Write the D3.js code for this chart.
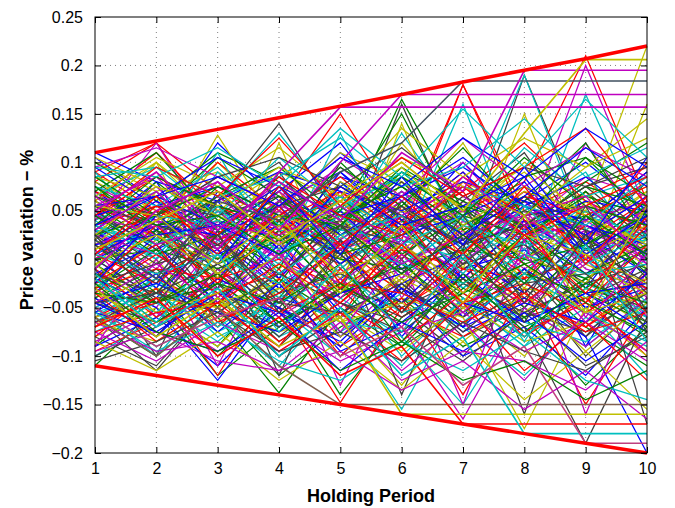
<!DOCTYPE html>
<html>
<head>
<meta charset="utf-8">
<script src="https://cdn.jsdelivr.net/npm/d3@7/dist/d3.min.js"></script>
<style>
  body { margin: 0; background: #fff; }
  svg text { font-family: "Liberation Sans", Arial, Helvetica, sans-serif; }
</style>
</head>
<body>
<svg id="chart" width="675" height="508"></svg>
<script>
// holding periods (x axis)
var periods = [1, 2, 3, 4, 5, 6, 7, 8, 9, 10];
var yTicks = [-0.2, -0.15, -0.1, -0.05, 0, 0.05, 0.1, 0.15, 0.2, 0.25];

// price variation paths, one per line, coloured through the MATLAB colour order
var paths = [
  [.105,.06,.02,-.03,.01,.05,-.02,.04,.00,.03],
  [-.11,-.05,-.09,-.02,-.06,.01,-.04,-.08,-.03,-.05],
  [.08,.12,.03,.07,-.01,.04,.09,.02,.06,.01],
  [.02,-.03,.05,-.01,.08,.02,-.05,.01,-.02,.06],
  [-.04,.01,-.06,.03,-.02,-.07,.00,.05,-.01,-.03],
  [.06,.02,.10,.04,.00,-.03,.03,-.02,.07,.02],
  [-.08,-.11,-.04,-.09,-.03,-.01,-.06,-.02,-.10,-.04],
  [.03,.08,-.02,.05,.11,.06,.01,.04,-.03,.05],
  [-.01,.04,.01,-.04,.03,.09,.04,.00,.05,-.02],
  [.09,.05,.07,.02,.06,.00,.08,.03,.01,.04],
  [-.06,-.02,-.08,-.05,-.10,-.04,-.07,-.12,-.06,-.09],
  [.01,-.06,.02,-.02,.04,-.01,.02,.07,.03,.00],
  [.05,.10,.04,.08,.02,.12,.05,.09,.03,.07],
  [-.03,-.08,-.01,-.06,.01,-.05,-.10,-.03,-.08,-.01],
  [.07,.03,.12,.06,.09,.04,.02,.06,.10,.05],
  [-.09,-.04,-.12,-.07,-.03,-.09,-.05,-.01,-.07,-.11],
  [.00,.05,-.04,.02,-.06,.03,.07,-.02,.04,.08],
  [.04,.00,.06,.13,.05,.01,-.03,.02,-.04,.00],
  [-.05,-.01,-.03,.01,-.08,-.02,.03,-.05,.00,-.06],
  [.10,.07,.09,.05,.11,.08,.04,.10,.06,.03],
  [-.02,.03,-.05,.06,.00,.16,.02,-.04,.01,-.03],
  [.03,-.02,.01,-.07,-.02,.02,-.06,.03,-.09,.01],
  [-.07,-.03,-.10,-.04,-.14,-.06,-.02,-.07,-.04,-.08],
  [.06,.11,.05,.03,.07,.02,.18,.05,.08,.04],
  [-.10,-.06,-.02,-.08,-.05,-.11,-.04,-.09,-.02,-.06],
  [.02,.06,.00,.04,-.03,.01,.05,.00,.12,.03],
  [-.04,.00,-.07,-.01,.04,-.03,.01,-.06,-.02,.02],
  [.08,.04,.06,.10,.03,.07,.01,.19,.04,.09],
  [.00,-.04,.03,-.03,.02,-.08,-.01,.01,-.05,-.02],
  [-.06,-.10,-.05,-.12,-.07,-.04,-.09,-.06,-.13,-.07],
  [.04,.09,.02,.06,.15,.05,.03,.07,.02,.10],
  [-.02,-.07,.02,-.04,-.01,.04,-.03,.02,.00,-.05],
  [.07,.02,.08,.01,.05,-.02,.06,.01,.04,.00],
  [-.08,-.05,-.09,-.03,-.06,-.13,-.05,-.10,-.03,-.07],
  [.01,.05,-.03,.09,.01,.06,-.01,.03,.07,.02],
  [.05,.01,.04,-.02,.08,.03,.10,.04,.01,.06],
  [-.03,.02,-.02,.03,-.04,.00,-.07,.02,-.03,.01],
  [.09,.12,.07,.04,.06,.10,.05,.08,.21,.06],
  [-.05,-.09,-.06,-.11,-.04,-.08,-.15,-.05,-.09,-.04],
  [.03,-.01,.05,.00,.07,-.04,.04,-.01,.03,-.06],
  [-.01,.07,.00,.05,-.02,.08,.03,-.03,.06,.01],
  [.06,.03,-.01,.02,.04,.00,.06,.11,.02,.08],
  [-.09,-.06,-.11,-.05,-.08,-.03,-.10,-.07,-.12,-.05],
  [.02,.08,.03,-.01,.10,.04,.00,.06,.01,.04],
  [-.07,-.02,-.05,-.09,-.01,-.06,-.02,-.08,-.04,-.10],
  [.05,.00,.09,.03,.02,.07,.01,.05,.09,.00],
  [-.02,.04,-.04,.02,-.05,.01,-.02,.04,-.06,.03],
  [.08,.05,.03,.07,.00,.05,.12,.02,.05,-.01],
  [-.04,-.08,-.01,-.05,.02,-.03,-.06,-.01,-.08,-.03],
  [.00,.03,.06,-.02,.05,-.01,.02,.08,.00,.05],
  [.10,.06,.11,.08,.04,.09,.06,.03,.08,.12],
  [-.06,-.03,-.07,-.01,-.09,-.05,-.01,-.04,-.07,-.02],
  [.04,.07,.01,.06,.03,.13,.04,.01,.05,.02],
  [-.01,-.05,.04,.00,-.04,.02,-.05,.00,.03,-.04],
  [.06,.10,.05,.09,.06,.03,.08,.05,.02,.07],
  [-.10,-.07,-.04,-.10,-.06,-.02,-.08,-.05,-.11,-.08],
  [.03,-.03,.07,.01,.09,.03,-.02,.04,.00,.04],
  [-.03,.01,-.05,.04,-.03,.06,.00,-.05,.02,-.01],
  [.07,.04,.10,.05,.01,.04,.07,.12,.06,.03],
  [-.05,-.10,-.03,-.07,-.02,-.10,-.04,-.09,-.05,-.12],
  [.04,.12,.02,.05,.01,.07,.03,.06,.00,.04],
  [-.03,.02,.128,.03,.06,.01,.05,.00,.04,.02],
  [.05,.01,.06,.14,.04,.08,.02,.05,.03,.01],
  [.02,.06,.03,.07,.12,.04,.09,.03,.06,.05],
  [-.02,.03,.00,.06,.03,.165,.05,.02,.07,.00],
  [.01,.05,.02,.04,.07,.03,.18,.04,.02,.06],
  [.03,.00,.05,.02,.05,.09,.04,.19,.03,.08],
  [.00,.04,.01,.07,.02,.06,.10,.03,.20,.05],
  [.06,.02,.04,.01,.08,.05,.03,.07,.05,.22],
  [-.06,-.115,-.04,-.07,-.03,-.05,-.02,-.06,-.04,-.01],
  [-.02,-.05,-.125,-.04,-.06,-.03,-.07,-.01,-.05,-.03],
  [-.04,-.01,-.06,-.138,-.05,-.09,-.03,-.06,-.02,-.07],
  [-.01,-.06,-.02,-.05,-.148,-.05,-.08,-.04,-.07,-.03],
  [-.05,-.02,-.07,-.03,-.06,-.155,-.04,-.08,-.03,-.06],
  [-.03,-.07,-.01,-.06,-.02,-.07,-.165,-.05,-.09,-.04],
  [-.07,-.03,-.05,-.02,-.08,-.04,-.06,-.175,-.05,-.10],
  [.00,-.04,-.03,-.08,-.03,-.06,-.02,-.07,-.19,-.06],
  [-.04,-.08,-.02,-.05,-.09,-.03,-.07,-.04,-.08,-.20],
  [.07,.11,.04,.02,.05,.15,.03,.06,.12,.02],
  [-.08,-.03,-.12,-.02,-.10,-.04,-.14,-.03,-.15,-.05],
  [.09,.02,.11,.00,.13,.01,.16,.00,.17,.03],
  [-.09,.00,-.11,.01,-.13,.00,-.15,.02,-.16,-.01],
  [.02,.10,-.02,.12,-.03,.14,-.01,.15,.00,.16],
  [-.01,-.10,.03,-.12,.02,-.14,.01,-.16,.03,-.17],
  [.11,.08,.06,.09,.07,.05,.08,.06,.04,.09],
  [.00,.01,-.01,.02,.00,-.01,.01,.00,-.02,.01],
  [-.03,-.01,-.02,.00,-.03,.01,-.01,-.02,.00,-.03],
  [.03,.02,.04,.01,.03,.02,.00,.03,.01,.02],
  [.05,.04,.02,.06,.01,.03,.05,.02,.04,.06],
  [-.06,-.04,-.05,-.03,-.06,-.02,-.05,-.03,-.04,-.02],
  [.045,.015,.065,.025,-.005,.035,.055,.015,-.025,.045],
  [-.035,.025,-.015,.045,.005,-.045,.015,.035,-.015,.025],
  [.015,-.035,.035,-.025,.055,.005,-.035,.025,.045,-.015],
  [.055,.025,-.025,.035,.015,.065,.025,-.015,.035,.005],
  [-.025,-.055,.005,-.035,.025,-.015,.045,-.025,.015,-.045],
  [.035,.075,.015,.045,-.015,.025,-.005,.055,.025,.065],
  [-.045,-.015,-.065,-.005,-.035,.015,-.025,-.055,-.005,-.035],
  [.025,.055,.045,.085,.035,.015,.065,.035,.075,.025],
  [-.015,.015,-.045,.015,-.055,-.025,.005,-.035,.025,-.015],
  [.065,.035,.055,.015,.045,.075,.035,.065,.015,.055],
  [.005,-.025,.025,-.045,.015,-.035,.035,-.005,-.045,.015],
  [-.055,-.035,-.075,-.045,-.015,-.055,-.035,-.075,-.025,-.055],
  [.075,.045,.085,.055,.095,.045,.075,.035,.085,.065],
  [-.065,-.085,-.045,-.075,-.055,-.095,-.045,-.085,-.065,-.035],
  [.035,-.005,.045,.065,.025,.055,-.005,.045,.055,.035],
  [.015,.045,.005,.035,.065,.025,.045,.075,.035,.015],
  [-.005,-.045,-.025,-.065,-.035,-.005,-.055,-.015,-.035,-.065],
  [.045,.085,.055,.025,.075,.035,.085,.045,.065,.095],
  [-.075,-.045,-.085,-.035,-.065,-.075,-.025,-.065,-.085,-.045],
  [.025,.005,-.035,.005,-.025,.025,-.015,-.045,-.005,.035],
  [.085,.065,.035,.075,.045,.085,.055,.095,.045,.075],
  [-.045,-.065,-.025,-.085,-.045,-.065,-.105,-.055,-.075,-.035],
  [.005,.035,.025,.055,-.005,.045,.015,.055,.035,.005],
  [.055,.015,.075,.035,.065,.005,.045,.025,.065,.045],
  [-.035,.005,-.035,-.015,-.045,.005,-.045,-.025,-.055,-.015],
  [.065,.095,.045,.105,.055,.085,.045,.115,.065,.085],
  [-.085,-.055,-.095,-.065,-.105,-.075,-.055,-.095,-.065,-.105],
  [.015,.065,-.015,.025,.045,-.025,.035,.005,-.025,.055],
  [-.025,-.005,.015,-.035,-.015,-.045,-.005,.015,-.035,-.025],
  [.095,.055,.075,.045,.085,.065,.095,.055,.085,.035],
  [-.015,-.045,-.005,.025,-.035,.035,-.025,.025,-.015,.015],
  [.035,.055,.015,.045,.085,.035,.005,.065,.045,.075],
  [-.065,-.025,-.055,-.015,-.075,-.035,-.065,-.015,-.055,-.085],
  [.045,.025,.065,.015,.055,.105,.065,.025,.035,-.005],
  [-.005,.025,-.005,.045,.025,.065,.025,.045,.005,.035],
  [.025,-.015,.015,-.015,.035,-.015,.055,-.035,.025,-.035],
  [-.045,-.075,-.035,-.055,-.085,-.025,-.075,-.045,-.065,-.015],
  [.075,.025,.065,.095,.045,.075,.025,.085,.105,.045],
  [-.095,-.065,-.035,-.085,-.045,-.085,-.035,-.075,-.045,-.095],
  [.005,.045,.035,-.005,.065,.015,.045,-.015,.045,.025],
  [.055,.085,.025,.065,.015,.045,.075,.045,-.005,.055],
  [-.035,-.065,-.045,-.025,-.065,-.045,-.085,-.035,-.095,-.045],
  [.015,-.025,.055,.035,.005,.055,.015,.065,.015,-.025],
  [-.055,-.015,-.075,-.025,-.095,-.065,-.015,-.065,-.035,-.075],
  [.085,.045,.105,.065,.035,.095,.055,.035,.075,.055],
  [-.025,.035,-.025,.055,-.025,.045,-.035,.035,-.045,.045],
  [.035,.015,.045,.005,.045,-.005,.035,.015,.055,.015],
  [-.075,-.105,-.065,-.095,-.055,-.115,-.065,-.125,-.055,-.095],
  [.065,.105,.075,.115,.065,.135,.085,.125,.095,.145],
  [-.015,-.035,-.055,-.015,-.045,-.075,-.025,-.055,-.025,-.005],
  [.045,.065,.035,.075,.025,.065,.105,.055,.025,.065],
  [.025,.045,.075,.045,.035,.085,.045,.105,.055,.035],
  [-.065,-.045,-.015,-.055,-.025,-.035,-.065,-.035,-.075,-.055],
  [.005,-.015,.005,-.025,.015,-.005,-.025,.005,-.015,-.005],
  [.095,.115,.085,.055,.105,.065,.125,.075,.115,.085],
  [-.085,-.115,-.075,-.125,-.085,-.135,-.085,-.145,-.095,-.155],
  [.055,.035,.015,.055,.075,.045,.015,.035,.075,.095],
  [-.045,-.025,-.055,-.075,-.035,-.015,-.045,-.065,-.035,-.025],
  [.035,.085,.055,.035,.095,.055,.115,.045,.105,.065],
  [-.035,-.085,-.045,-.095,-.055,-.105,-.045,-.115,-.065,-.125],
  [.075,.055,.095,.035,.065,.025,.075,.055,.035,.085],
  [.015,.035,-.005,.055,.035,-.005,.025,.045,.065,-.005],
  [-.005,-.055,-.035,.005,-.065,-.015,-.045,-.005,-.055,-.035],
  [.065,.045,.085,.105,.075,.115,.065,.095,.075,.105],
  [-.055,-.075,-.095,-.055,-.115,-.065,-.095,-.055,-.105,-.065],
  [.045,.005,.025,.065,.005,.025,.055,-.005,.015,.045],
  [-.025,.015,-.065,-.035,.015,-.055,.005,-.045,.005,-.055],
  [.085,.095,.065,.085,.125,.075,.095,.145,.085,.115],
  [-.095,-.075,-.105,-.115,-.065,-.125,-.095,-.105,-.135,-.085],
  [.025,.075,.045,.015,.055,.095,.035,.075,.045,.015],
  [-.065,-.035,-.005,-.045,-.055,-.025,-.075,-.025,-.015,-.065],
  [.055,.065,.105,.075,.045,.065,.025,.065,.115,.075],
  [-.015,-.065,-.025,-.045,-.005,-.085,-.015,-.075,-.025,-.045],
  [.005,.055,.025,.085,.045,.025,.075,.025,.055,.085],
  [.035,.005,.055,-.015,.025,.045,-.015,.055,-.005,.025],
  [-.045,-.005,-.045,.005,-.075,.005,-.055,.005,-.065,.005],
  [.105,.075,.055,.095,.065,.105,.075,.045,.095,.125],
  [-.105,-.085,-.055,-.095,-.075,-.105,-.065,-.095,-.115,-.075],
  [.015,.025,.035,.005,.075,.035,.055,.085,.005,.045],
  [-.035,-.045,-.015,-.065,-.025,-.065,-.035,-.005,-.045,-.075],
  [.045,.095,.065,.125,.055,.105,.065,.095,.135,.055],
  [-.055,-.095,-.065,-.105,-.125,-.085,-.115,-.075,-.125,-.145],
  [.065,.015,.035,.025,.055,.015,.085,.035,.055,.005],
  [-.005,.025,-.015,.035,-.015,.015,-.035,.025,.005,-.025],
  [.025,-.045,.025,-.055,.005,-.055,.015,-.065,.025,-.075],
  [-.025,.045,-.005,.075,.005,.085,.015,.095,.015,.105],
  [.075,.035,.045,.005,.035,-.015,.025,-.025,.045,.005],
  [-.075,-.055,-.045,-.005,-.045,.015,-.045,.025,-.035,.035],
  [.095,.085,.115,.075,.135,.085,.155,.095,.165,.105],
  [-.065,-.095,-.085,-.115,-.095,-.135,-.105,-.155,-.115,-.165],
  [.055,.045,-.005,.045,-.035,.035,-.045,.045,-.055,.055],
  [-.045,-.035,.025,-.045,.035,-.035,.045,-.045,.055,-.055],
  [.035,.065,.085,.055,.105,.075,.125,.085,.135,.095],
  [-.025,-.075,-.095,-.065,-.115,-.085,-.125,-.105,-.145,-.115],
  [.005,.065,.005,.075,.015,.065,.005,.075,-.005,.065],
  [-.015,-.065,.005,-.075,-.005,-.075,.005,-.085,.015,-.085]
];

// paths that hit a new extreme and then stay flat to the end
var flatPaths = [
  [.03,.07,.01,.09,.157,.157,.157,.157,.157,.157],
  [-.01,.05,.08,.03,.10,.17,.17,.17,.17,.17],
  [.02,-.02,.06,.04,.09,.12,.184,.184,.184,.184],
  [.05,.09,.03,.08,.04,.11,.07,.195,.195,.195],
  [.01,.04,.07,.02,.06,.10,.05,.13,.206,.206],
  [-.06,-.10,-.05,-.11,-.15,-.15,-.15,-.15,-.15,-.15],
  [-.03,-.08,-.04,-.09,-.06,-.16,-.16,-.16,-.16,-.16],
  [-.07,-.04,-.10,-.06,-.12,-.09,-.17,-.17,-.17,-.17],
  [-.02,-.07,-.03,-.10,-.05,-.12,-.08,-.18,-.18,-.18],
  [-.05,-.09,-.06,-.04,-.10,-.07,-.13,-.09,-.19,-.19]
];
var flatColors = ['#bf00bf', '#bf00bf', '#3f4f5f', '#bf00bf', '#bfbf00',
                  '#7f5f4f', '#bfbf00', '#ff0000', '#00bfbf', '#bf3f7f'];

// red envelope lines
var upperBound = [0.11, 0.122, 0.134, 0.146, 0.158, 0.170, 0.183, 0.195, 0.207, 0.22];
var lowerBound = [-0.11, -0.12, -0.13, -0.14, -0.15, -0.16, -0.17, -0.18, -0.19, -0.20];

var colorOrder = ['#0000ff', '#008000', '#ff0000', '#00bfbf', '#bf00bf', '#bfbf00', '#404040'];

var margin = { top: 17, right: 28, bottom: 55, left: 95 };
var width = 675 - margin.left - margin.right;
var height = 508 - margin.top - margin.bottom;

var svg = d3.select('#chart');
var g = svg.append('g').attr('transform', 'translate(' + margin.left + ',' + margin.top + ')');

var x = d3.scaleLinear().domain([1, 10]).range([0, width]);
var y = d3.scaleLinear().domain([-0.2, 0.25]).range([height, 0]);

var fmtY = function (d) {
  var s = d3.format('~g')(+d.toFixed(2));
  return s.replace('-', '\u2212');
};

// dotted grid
g.append('g').selectAll('line')
  .data(periods.slice(1, -1))
  .enter().append('line')
  .attr('x1', function (d) { return x(d); }).attr('x2', function (d) { return x(d); })
  .attr('y1', 0).attr('y2', height)
  .attr('stroke', '#808080').attr('stroke-width', 1).attr('stroke-dasharray', '1,4');
g.append('g').selectAll('line')
  .data(yTicks.slice(1, -1))
  .enter().append('line')
  .attr('y1', function (d) { return y(d); }).attr('y2', function (d) { return y(d); })
  .attr('x1', 0).attr('x2', width)
  .attr('stroke', '#808080').attr('stroke-width', 1).attr('stroke-dasharray', '1,4');

var line = d3.line()
  .x(function (d, i) { return x(periods[i]); })
  .y(function (d) { return y(d); });

var plot = g.append('g');
plot.selectAll('path.p')
  .data(paths)
  .enter().append('path')
  .attr('class', 'p')
  .attr('fill', 'none')
  .attr('stroke', function (d, i) { return colorOrder[i % colorOrder.length]; })
  .attr('stroke-width', 1.25)
  .attr('d', line);

plot.selectAll('path.f')
  .data(flatPaths)
  .enter().append('path')
  .attr('class', 'f')
  .attr('fill', 'none')
  .attr('stroke', function (d, i) { return flatColors[i]; })
  .attr('stroke-width', 1.6)
  .attr('d', line);

[upperBound, lowerBound].forEach(function (b) {
  plot.append('path')
    .datum(b)
    .attr('fill', 'none')
    .attr('stroke', '#ff0000')
    .attr('stroke-width', 3.5)
    .attr('d', line);
});

// box and axes with inward ticks
g.append('rect').attr('width', width).attr('height', height)
  .attr('fill', 'none').attr('stroke', '#000').attr('stroke-width', 1);

var xAxis = g.append('g').attr('transform', 'translate(0,' + height + ')')
  .call(d3.axisBottom(x).tickValues(periods).tickSize(-6).tickPadding(10).tickFormat(d3.format('d')));
var xTop = g.append('g')
  .call(d3.axisTop(x).tickValues(periods).tickSize(-6).tickFormat(''));
var yAxis = g.append('g')
  .call(d3.axisLeft(y).tickValues(yTicks).tickSize(-6).tickPadding(12).tickFormat(fmtY));
var yRight = g.append('g').attr('transform', 'translate(' + width + ',0)')
  .call(d3.axisRight(y).tickValues(yTicks).tickSize(-6).tickFormat(''));

[xAxis, xTop, yAxis, yRight].forEach(function (a) {
  a.select('.domain').remove();
  a.selectAll('.tick line').attr('stroke', '#000');
  a.selectAll('.tick text').attr('fill', '#000').style('font-size', '16px');
});

svg.append('text')
  .attr('x', margin.left + width / 2).attr('y', 502)
  .attr('text-anchor', 'middle')
  .style('font-size', '18px').style('font-weight', 'bold')
  .text('Holding Period');

svg.append('text')
  .attr('transform', 'translate(33,230) rotate(-90)')
  .attr('text-anchor', 'middle')
  .style('font-size', '18px').style('font-weight', 'bold')
  .text('Price variation \u2212 %');
</script>
</body>
</html>
